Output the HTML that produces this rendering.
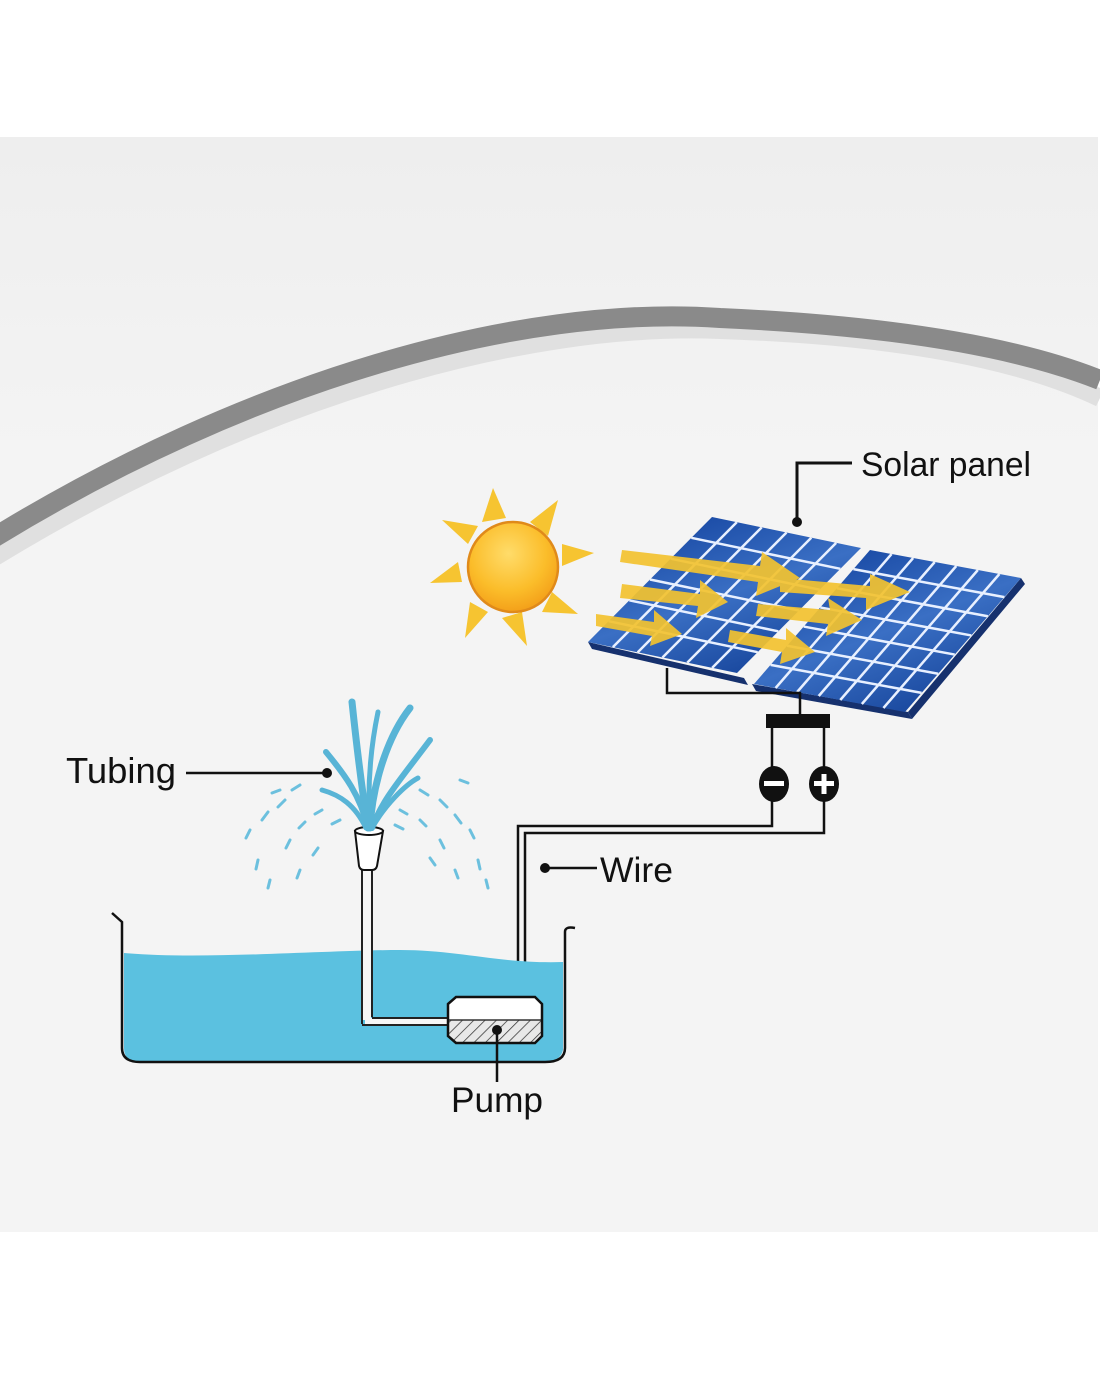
<!DOCTYPE html>
<html><head><meta charset="utf-8"><style>
html,body{margin:0;padding:0;background:#fff;}
svg{display:block}
text{font-family:"Liberation Sans",sans-serif;fill:#111}
</style></head><body>
<svg width="1100" height="1375" viewBox="0 0 1100 1375" xmlns="http://www.w3.org/2000/svg">
<defs>
<linearGradient id="bg" x1="0" y1="0" x2="0" y2="1">
<stop offset="0" stop-color="#eeeeee"/><stop offset="0.3" stop-color="#f4f4f4"/><stop offset="1" stop-color="#f4f4f4"/>
</linearGradient>
<radialGradient id="sun" cx="0.45" cy="0.35" r="0.7">
<stop offset="0" stop-color="#ffdc6a"/><stop offset="0.6" stop-color="#fbbd2a"/><stop offset="1" stop-color="#f29a16"/>
</radialGradient>
<linearGradient id="pan" x1="0" y1="0" x2="1" y2="1">
<stop offset="0" stop-color="#1d4ea8"/><stop offset="0.5" stop-color="#3a6fc4"/><stop offset="1" stop-color="#1b4aa0"/>
</linearGradient>
<pattern id="hatch" width="8" height="8" patternUnits="userSpaceOnUse" patternTransform="rotate(45)">
<rect width="8" height="8" fill="#e8e8e8"/><line x1="0" y1="0" x2="0" y2="8" stroke="#333" stroke-width="1.5"/>
</pattern>
<g id="grid6">
<rect x="0" y="0" width="1" height="1" fill="url(#pan)"/>
<g stroke="#e8f0ff" stroke-width="2.5">
<line x1="0.1667" y1="0" x2="0.1667" y2="1" vector-effect="non-scaling-stroke"/>
<line x1="0.3333" y1="0" x2="0.3333" y2="1" vector-effect="non-scaling-stroke"/>
<line x1="0.5" y1="0" x2="0.5" y2="1" vector-effect="non-scaling-stroke"/>
<line x1="0.6667" y1="0" x2="0.6667" y2="1" vector-effect="non-scaling-stroke"/>
<line x1="0.8333" y1="0" x2="0.8333" y2="1" vector-effect="non-scaling-stroke"/>
<line y1="0.1667" x1="0" y2="0.1667" x2="1" vector-effect="non-scaling-stroke"/>
<line y1="0.3333" x1="0" y2="0.3333" x2="1" vector-effect="non-scaling-stroke"/>
<line y1="0.5" x1="0" y2="0.5" x2="1" vector-effect="non-scaling-stroke"/>
<line y1="0.6667" x1="0" y2="0.6667" x2="1" vector-effect="non-scaling-stroke"/>
<line y1="0.8333" x1="0" y2="0.8333" x2="1" vector-effect="non-scaling-stroke"/>
</g></g>
<g id="grid7">
<rect x="0" y="0" width="1" height="1" fill="url(#pan)"/>
<g stroke="#e8f0ff" stroke-width="2.5">
<line x1="0.1429" y1="0" x2="0.1429" y2="1" vector-effect="non-scaling-stroke"/>
<line x1="0.2857" y1="0" x2="0.2857" y2="1" vector-effect="non-scaling-stroke"/>
<line x1="0.4286" y1="0" x2="0.4286" y2="1" vector-effect="non-scaling-stroke"/>
<line x1="0.5714" y1="0" x2="0.5714" y2="1" vector-effect="non-scaling-stroke"/>
<line x1="0.7143" y1="0" x2="0.7143" y2="1" vector-effect="non-scaling-stroke"/>
<line x1="0.8571" y1="0" x2="0.8571" y2="1" vector-effect="non-scaling-stroke"/>
<line y1="0.1429" x1="0" y2="0.1429" x2="1" vector-effect="non-scaling-stroke"/>
<line y1="0.2857" x1="0" y2="0.2857" x2="1" vector-effect="non-scaling-stroke"/>
<line y1="0.4286" x1="0" y2="0.4286" x2="1" vector-effect="non-scaling-stroke"/>
<line y1="0.5714" x1="0" y2="0.5714" x2="1" vector-effect="non-scaling-stroke"/>
<line y1="0.7143" x1="0" y2="0.7143" x2="1" vector-effect="non-scaling-stroke"/>
<line y1="0.8571" x1="0" y2="0.8571" x2="1" vector-effect="non-scaling-stroke"/>
</g></g>
</defs>
<rect x="0" y="0" width="1100" height="1375" fill="#fff"/>
<rect x="0" y="137" width="1098" height="1095" fill="url(#bg)"/>
<!-- arc -->
<path d="M-10,560 C 250,400 520,322 720,330 C 900,336 1020,360 1100,398" fill="none" stroke="#e0e0e0" stroke-width="18"/>
<path d="M-10,540 C 250,380 520,304 720,318 C 900,326 1020,348 1100,380" fill="none" stroke="#8a8a8a" stroke-width="20"/>

<!-- sun rays -->
<g fill="#f6c431">
<polygon points="493,488 482,522 506,518"/>
<polygon points="558,500 530,522 548,536"/>
<polygon points="594,553 562,544 562,566"/>
<polygon points="578,614 552,592 542,612"/>
<polygon points="527,646 522,612 502,618"/>
<polygon points="465,638 488,612 470,602"/>
<polygon points="430,583 462,582 458,562"/>
<polygon points="442,520 468,544 478,526"/>
</g>
<circle cx="513" cy="567" r="45" fill="url(#sun)" stroke="#e08a1a" stroke-width="2.5"/>

<!-- panels -->
<polygon points="588,642 744,678 748,685 592,649" fill="#16316e"/>
<polygon points="752,684 908,712 912,719 756,691" fill="#16316e"/>
<polygon points="1021,578 908,712 912,719 1025,584" fill="#16316e"/>
<use href="#grid6" transform="matrix(149,31,-124,125,712,517)"/>
<use href="#grid7" transform="matrix(151,28,-116,134,870,550)"/>

<!-- arrows -->
<g fill="#f3c330" opacity="0.92">
<polygon points="622,550 760,566 762,552 800,578 756,596 758,582 620,562"/>
<polygon points="780,578 870,586 870,574 910,592 866,610 866,598 780,592"/>
<polygon points="622,584 700,594 700,580 728,602 696,618 698,606 620,598"/>
<polygon points="596,614 654,622 654,610 682,634 650,646 652,636 596,626"/>
<polygon points="758,604 830,610 828,598 862,620 826,636 828,624 756,616"/>
<polygon points="730,630 786,640 786,628 815,652 780,664 782,652 728,642"/>
</g>

<!-- wiring -->
<g fill="none" stroke="#111" stroke-width="2.5">
<polyline points="667,668 667,693 800,693 800,716"/>
<line x1="772" y1="728" x2="772" y2="770"/>
<line x1="824" y1="728" x2="824" y2="770"/>
<polyline points="772,796 772,826 518,826 518,998"/>
<polyline points="824,798 824,833 525,833 525,998"/>
</g>
<rect x="766" y="714" width="64" height="14" fill="#111"/>
<ellipse cx="774" cy="784" rx="15" ry="18" fill="#111"/>
<ellipse cx="824" cy="784" rx="15" ry="18" fill="#111"/>
<rect x="764" y="781" width="20" height="5" fill="#fff"/>
<rect x="814" y="781" width="20" height="5" fill="#fff"/>
<rect x="821.5" y="774" width="5" height="20" fill="#fff"/>

<!-- labels -->
<polyline points="797,522 797,463 852,463" fill="none" stroke="#111" stroke-width="3"/>
<circle cx="797" cy="522" r="5" fill="#111"/>
<text x="861" y="476" font-size="34" textLength="170" lengthAdjust="spacingAndGlyphs">Solar panel</text>

<line x1="186" y1="773" x2="327" y2="773" stroke="#111" stroke-width="2.5"/>
<circle cx="327" cy="773" r="5" fill="#111"/>
<text x="66" y="783" font-size="36" textLength="110" lengthAdjust="spacingAndGlyphs">Tubing</text>

<line x1="545" y1="868" x2="597" y2="868" stroke="#111" stroke-width="2.5"/>
<circle cx="545" cy="868" r="5" fill="#111"/>
<text x="600" y="882" font-size="35" textLength="73" lengthAdjust="spacingAndGlyphs">Wire</text>

<!-- water -->
<path d="M124,953 C 200,960 330,950 400,950 C 460,950 500,964 563,962 L563,1050 Q 560,1062 545,1062 L140,1062 Q 124,1062 124,1048 Z" fill="#5bc1e0"/>
<path d="M112,913 L122,922 L122,1048 Q 122,1062 140,1062 L545,1062 Q 565,1062 565,1048 L565,932 Q 565,926 575,928" fill="none" stroke="#111" stroke-width="2.5"/>

<!-- tubing -->
<line x1="367" y1="870" x2="367" y2="1020" stroke="#f6f6f6" stroke-width="8"/>
<polyline points="365,1021 448,1021" stroke="#f6f6f6" stroke-width="6" fill="none"/>
<g fill="none" stroke="#222" stroke-width="2">
<line x1="362" y1="868" x2="362" y2="1024"/>
<line x1="372" y1="868" x2="372" y2="1017"/>
<line x1="362" y1="1025" x2="450" y2="1025"/>
<line x1="372" y1="1018" x2="450" y2="1018"/>
</g>
<path d="M355,831 L383,831 L377,866 Q 376,870 372,870 L364,870 Q 360,870 359,866 Z" fill="#fff" stroke="#111" stroke-width="2"/>
<ellipse cx="369" cy="831" rx="14" ry="4" fill="#fff" stroke="#111" stroke-width="2"/>

<!-- pump -->
<path d="M456,997 L535,997 L542,1004 L542,1036 L535,1043 L456,1043 L448,1036 L448,1004 Z" fill="#fff"/>
<path d="M449,1020 L541,1020 L541,1036 L535,1042 L456,1042 L449,1036 Z" fill="url(#hatch)"/>
<line x1="449" y1="1020" x2="541" y2="1020" stroke="#333" stroke-width="1.5"/>
<path d="M456,997 L535,997 L542,1004 L542,1036 L535,1043 L456,1043 L448,1036 L448,1004 Z" fill="none" stroke="#111" stroke-width="2.5"/>
<line x1="497" y1="1030" x2="497" y2="1082" stroke="#111" stroke-width="2.5"/>
<circle cx="497" cy="1030" r="5" fill="#111"/>
<text x="451" y="1112" font-size="35" textLength="92" lengthAdjust="spacingAndGlyphs">Pump</text>

<!-- fountain jets -->
<g fill="none" stroke="#58b4d6" stroke-linecap="round">
<path d="M368,828 C 362,790 356,740 352,702" stroke-width="7"/>
<path d="M370,828 C 372,790 385,740 410,708" stroke-width="7"/>
<path d="M368,828 C 360,795 345,775 326,752" stroke-width="6"/>
<path d="M372,828 C 382,800 400,780 430,740" stroke-width="6"/>
<path d="M372,828 C 385,805 405,785 418,778" stroke-width="5"/>
<path d="M366,828 C 355,805 340,795 322,790" stroke-width="5"/>
<path d="M370,828 C 368,800 368,760 378,712" stroke-width="5"/>
</g>
<g fill="none" stroke="#6cc0de" stroke-width="3" stroke-linecap="round">
<path d="M300,785 l-8,5"/><path d="M285,800 l-7,7"/><path d="M268,812 l-6,8"/><path d="M250,830 l-4,8"/>
<path d="M258,860 l-2,9"/><path d="M270,880 l-2,8"/><path d="M290,840 l-4,8"/><path d="M305,822 l-6,6"/>
<path d="M322,810 l-7,4"/><path d="M340,820 l-8,4"/><path d="M300,870 l-3,8"/><path d="M318,848 l-5,7"/>
<path d="M420,790 l8,5"/><path d="M440,800 l7,7"/><path d="M455,815 l6,8"/><path d="M470,830 l4,8"/>
<path d="M478,860 l2,9"/><path d="M486,880 l2,8"/><path d="M440,840 l4,8"/><path d="M420,820 l6,6"/>
<path d="M400,810 l7,4"/><path d="M395,825 l8,4"/><path d="M455,870 l3,8"/><path d="M430,858 l5,7"/>
<path d="M460,780 l8,3"/><path d="M280,790 l-8,3"/>
</g>
</svg>
</body></html>
